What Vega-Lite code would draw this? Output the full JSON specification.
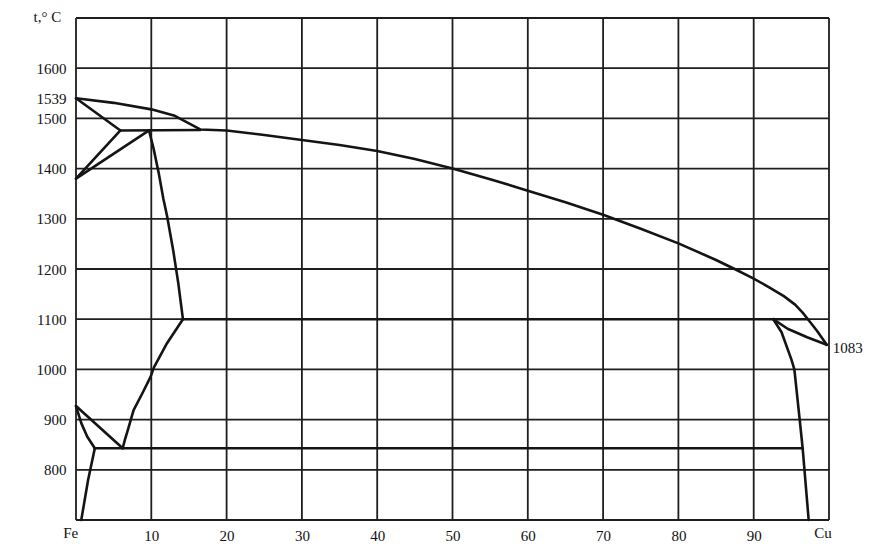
{
  "$schema": "https://vega.github.io/schema/vega-lite/v6.json",
  "autosize": "none",
  "width": 753,
  "height": 502,
  "padding": {"left": 76, "top": 18, "right": 65, "bottom": 40},
  "background": "white",
  "config": {"view": {"stroke": null}, "axis": {"labelFont": "Liberation Serif", "labelFontSize": 15, "labelColor": "#111", "domain": false, "ticks": false, "grid": false}},
  "datasets": {
    "vgrid": [{"x": 0}, {"x": 10}, {"x": 20}, {"x": 30}, {"x": 40}, {"x": 50}, {"x": 60}, {"x": 70}, {"x": 80}, {"x": 90}, {"x": 100}],
    "hgrid": [{"t": 700}, {"t": 800}, {"t": 900}, {"t": 1000}, {"t": 1100}, {"t": 1200}, {"t": 1300}, {"t": 1400}, {"t": 1500}, {"t": 1600}, {"t": 1700}],
    "curves": [
      {"seg": "A", "x": 0, "t": 1540}, {"seg": "A", "x": 5, "t": 1531}, {"seg": "A", "x": 10, "t": 1518}, {"seg": "A", "x": 13, "t": 1506}, {"seg": "A", "x": 16.5, "t": 1478}, {"seg": "A", "x": 20, "t": 1476}, {"seg": "A", "x": 25, "t": 1467}, {"seg": "A", "x": 30, "t": 1457}, {"seg": "A", "x": 35, "t": 1447}, {"seg": "A", "x": 40, "t": 1435}, {"seg": "A", "x": 45, "t": 1419}, {"seg": "A", "x": 50, "t": 1400}, {"seg": "A", "x": 55, "t": 1379}, {"seg": "A", "x": 60, "t": 1356}, {"seg": "A", "x": 65, "t": 1333}, {"seg": "A", "x": 70, "t": 1308}, {"seg": "A", "x": 75, "t": 1280}, {"seg": "A", "x": 80, "t": 1251}, {"seg": "A", "x": 85, "t": 1218}, {"seg": "A", "x": 87.6, "t": 1199}, {"seg": "A", "x": 90, "t": 1181}, {"seg": "A", "x": 92, "t": 1164}, {"seg": "A", "x": 94, "t": 1146}, {"seg": "A", "x": 95.5, "t": 1129}, {"seg": "A", "x": 96.5, "t": 1113}, {"seg": "A", "x": 97.2, "t": 1100}, {"seg": "A", "x": 98.4, "t": 1077}, {"seg": "A", "x": 99.7, "t": 1049},
      {"seg": "B", "x": 0, "t": 1540}, {"seg": "B", "x": 5.9, "t": 1476},
      {"seg": "C", "x": 5.9, "t": 1476}, {"seg": "C", "x": 16.5, "t": 1477},
      {"seg": "D", "x": 0, "t": 1380}, {"seg": "D", "x": 5.9, "t": 1476},
      {"seg": "E", "x": 0, "t": 1380}, {"seg": "E", "x": 9.7, "t": 1476},
      {"seg": "F", "x": 9.7, "t": 1476}, {"seg": "F", "x": 10.3, "t": 1440}, {"seg": "F", "x": 11.0, "t": 1390}, {"seg": "F", "x": 11.6, "t": 1340}, {"seg": "F", "x": 12.1, "t": 1305}, {"seg": "F", "x": 12.9, "t": 1238}, {"seg": "F", "x": 13.6, "t": 1170}, {"seg": "F", "x": 14.2, "t": 1100},
      {"seg": "G", "x": 14.2, "t": 1100}, {"seg": "G", "x": 97.2, "t": 1100},
      {"seg": "H", "x": 14.2, "t": 1100}, {"seg": "H", "x": 12.0, "t": 1050}, {"seg": "H", "x": 10.35, "t": 1004}, {"seg": "H", "x": 9.9, "t": 985}, {"seg": "H", "x": 8.8, "t": 952}, {"seg": "H", "x": 7.65, "t": 919}, {"seg": "H", "x": 6.9, "t": 880}, {"seg": "H", "x": 6.5, "t": 860}, {"seg": "H", "x": 6.2, "t": 843},
      {"seg": "I", "x": 0, "t": 927}, {"seg": "I", "x": 6.2, "t": 843},
      {"seg": "J", "x": 0, "t": 927}, {"seg": "J", "x": 0.7, "t": 893}, {"seg": "J", "x": 1.5, "t": 866}, {"seg": "J", "x": 2.5, "t": 843},
      {"seg": "K", "x": 2.5, "t": 843}, {"seg": "K", "x": 1.6, "t": 779}, {"seg": "K", "x": 0.7, "t": 700},
      {"seg": "L", "x": 2.5, "t": 843}, {"seg": "L", "x": 96.5, "t": 843},
      {"seg": "M", "x": 92.6, "t": 1100}, {"seg": "M", "x": 94.5, "t": 1081}, {"seg": "M", "x": 97.1, "t": 1064}, {"seg": "M", "x": 99.7, "t": 1049},
      {"seg": "N", "x": 92.6, "t": 1100}, {"seg": "N", "x": 93.7, "t": 1074}, {"seg": "N", "x": 95.0, "t": 1020}, {"seg": "N", "x": 95.4, "t": 1000}, {"seg": "N", "x": 96.1, "t": 901}, {"seg": "N", "x": 96.5, "t": 843}, {"seg": "N", "x": 97.3, "t": 700}
    ],
    "labels": [
      {"x": -0.7, "t": 674, "label": "Fe"},
      {"x": 99.2, "t": 674, "label": "Cu"},
      {"x": 102.5, "t": 1042, "label": "1083"},
      {"x": -3.8, "t": 1702, "label": "t,° C"}
    ]
  },
  "layer": [
    {
      "data": {"name": "vgrid"},
      "mark": {"type": "rule", "stroke": "#1e1e1e", "strokeWidth": 1.8},
      "encoding": {
        "x": {"field": "x", "type": "quantitative", "scale": {"domain": [0, 100], "nice": false, "zero": false},
          "axis": {"values": [10, 20, 30, 40, 50, 60, 70, 80, 90], "format": "d", "title": null, "labelPadding": 8, "labelBaseline": "top"}}
      }
    },
    {
      "data": {"name": "hgrid"},
      "mark": {"type": "rule", "stroke": "#1e1e1e", "strokeWidth": 1.8},
      "encoding": {
        "y": {"field": "t", "type": "quantitative", "scale": {"domain": [700, 1700], "nice": false, "zero": false},
          "axis": {"values": [800, 900, 1000, 1100, 1200, 1300, 1400, 1500, 1539, 1600], "format": "d", "title": null, "labelPadding": 10}}
      }
    },
    {
      "data": {"name": "curves"},
      "mark": {"type": "line", "stroke": "#141414", "strokeWidth": 2.6, "strokeJoin": "round", "strokeCap": "round"},
      "encoding": {
        "x": {"field": "x", "type": "quantitative", "scale": {"domain": [0, 100], "nice": false, "zero": false},
          "axis": {"values": [10, 20, 30, 40, 50, 60, 70, 80, 90], "format": "d", "title": null, "labelPadding": 8, "labelBaseline": "top"}},
        "y": {"field": "t", "type": "quantitative", "scale": {"domain": [700, 1700], "nice": false, "zero": false},
          "axis": {"values": [800, 900, 1000, 1100, 1200, 1300, 1400, 1500, 1539, 1600], "format": "d", "title": null, "labelPadding": 10}},
        "detail": {"field": "seg"},
        "order": {"value": null}
      }
    },
    {
      "data": {"name": "labels"},
      "mark": {"type": "text", "font": "Liberation Serif", "fontSize": 15, "color": "#111", "align": "center", "baseline": "middle"},
      "encoding": {
        "x": {"field": "x", "type": "quantitative", "scale": {"domain": [0, 100], "nice": false, "zero": false},
          "axis": {"values": [10, 20, 30, 40, 50, 60, 70, 80, 90], "format": "d", "title": null, "labelPadding": 8, "labelBaseline": "top"}},
        "y": {"field": "t", "type": "quantitative", "scale": {"domain": [700, 1700], "nice": false, "zero": false},
          "axis": {"values": [800, 900, 1000, 1100, 1200, 1300, 1400, 1500, 1539, 1600], "format": "d", "title": null, "labelPadding": 10}},
        "text": {"field": "label"}
      }
    }
  ]
}
